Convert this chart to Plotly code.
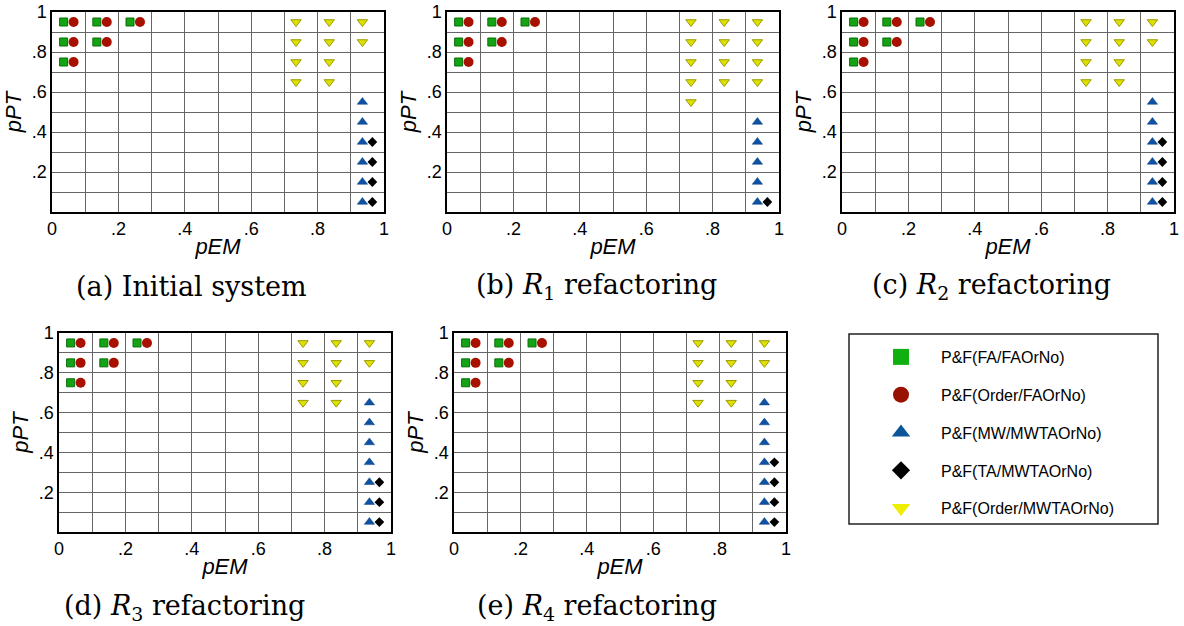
import plotly.graph_objects as go

# ---------------- data ----------------
CAPTIONS = [
    "(a) Initial system",
    "(b) <i>R</i><sub>1</sub> refactoring",
    "(c) <i>R</i><sub>2</sub> refactoring",
    "(d) <i>R</i><sub>3</sub> refactoring",
    "(e) <i>R</i><sub>4</sub> refactoring",
]
SERIES_NAMES = [
    "P&F(FA/FAOrNo)",
    "P&F(Order/FAOrNo)",
    "P&F(MW/MWTAOrNo)",
    "P&F(TA/MWTAOrNo)",
    "P&F(Order/MWTAOrNo)",
]
GRID_VALS = [0, 0.1, 0.2, 0.3, 0.4, 0.5, 0.6, 0.7, 0.8, 0.9, 1.0]
X_TICKVALS = [0, 0.2, 0.4, 0.6, 0.8, 1.0]
X_TICKTEXT = ["0", ".2", ".4", ".6", ".8", "1"]
Y_TICKVALS = [0.2, 0.4, 0.6, 0.8, 1.0]
Y_TICKTEXT = [".2", ".4", ".6", ".8", "1"]

# P&F(FA/FAOrNo) and P&F(Order/FAOrNo): same in every panel
FA_X = [0.035, 0.035, 0.035, 0.135, 0.135, 0.235]
FA_Y = [0.95, 0.85, 0.75, 0.95, 0.85, 0.95]
ORDFA_X = [0.065, 0.065, 0.065, 0.165, 0.165, 0.265]
ORDFA_Y = [0.95, 0.85, 0.75, 0.95, 0.85, 0.95]

# P&F(Order/MWTAOrNo)
ORDMW_X_A = [0.735, 0.735, 0.735, 0.735, 0.835, 0.835, 0.835, 0.835, 0.935, 0.935]
ORDMW_Y_A = [0.95, 0.85, 0.75, 0.65, 0.95, 0.85, 0.75, 0.65, 0.95, 0.85]
ORDMW_X_B = [0.735, 0.735, 0.735, 0.735, 0.735, 0.835, 0.835, 0.835, 0.835, 0.935, 0.935, 0.935, 0.935]
ORDMW_Y_B = [0.95, 0.85, 0.75, 0.65, 0.55, 0.95, 0.85, 0.75, 0.65, 0.95, 0.85, 0.75, 0.65]
ORDMW_X_C = [0.735, 0.735, 0.735, 0.735, 0.835, 0.835, 0.835, 0.835, 0.935, 0.935]
ORDMW_Y_C = [0.95, 0.85, 0.75, 0.65, 0.95, 0.85, 0.75, 0.65, 0.95, 0.85]
ORDMW_X_D = [0.735, 0.735, 0.735, 0.735, 0.835, 0.835, 0.835, 0.835, 0.935, 0.935]
ORDMW_Y_D = [0.95, 0.85, 0.75, 0.65, 0.95, 0.85, 0.75, 0.65, 0.95, 0.85]
ORDMW_X_E = [0.735, 0.735, 0.735, 0.735, 0.835, 0.835, 0.835, 0.835, 0.935, 0.935]
ORDMW_Y_E = [0.95, 0.85, 0.75, 0.65, 0.95, 0.85, 0.75, 0.65, 0.95, 0.85]

# P&F(MW/MWTAOrNo)
MW_X_A = [0.935, 0.935, 0.935, 0.935, 0.935, 0.935]
MW_Y_A = [0.55, 0.45, 0.35, 0.25, 0.15, 0.05]
MW_X_B = [0.935, 0.935, 0.935, 0.935, 0.935]
MW_Y_B = [0.45, 0.35, 0.25, 0.15, 0.05]
MW_X_C = [0.935, 0.935, 0.935, 0.935, 0.935, 0.935]
MW_Y_C = [0.55, 0.45, 0.35, 0.25, 0.15, 0.05]
MW_X_D = [0.935, 0.935, 0.935, 0.935, 0.935, 0.935, 0.935]
MW_Y_D = [0.65, 0.55, 0.45, 0.35, 0.25, 0.15, 0.05]
MW_X_E = [0.935, 0.935, 0.935, 0.935, 0.935, 0.935, 0.935]
MW_Y_E = [0.65, 0.55, 0.45, 0.35, 0.25, 0.15, 0.05]

# P&F(TA/MWTAOrNo)
TA_X_A = [0.965, 0.965, 0.965, 0.965]
TA_Y_A = [0.35, 0.25, 0.15, 0.05]
TA_X_B = [0.965]
TA_Y_B = [0.05]
TA_X_C = [0.965, 0.965, 0.965, 0.965]
TA_Y_C = [0.35, 0.25, 0.15, 0.05]
TA_X_D = [0.965, 0.965, 0.965]
TA_Y_D = [0.25, 0.15, 0.05]
TA_X_E = [0.965, 0.965, 0.965, 0.965]
TA_Y_E = [0.35, 0.25, 0.15, 0.05]

PANEL_ORDMW = [(ORDMW_X_A, ORDMW_Y_A), (ORDMW_X_B, ORDMW_Y_B), (ORDMW_X_C, ORDMW_Y_C),
               (ORDMW_X_D, ORDMW_Y_D), (ORDMW_X_E, ORDMW_Y_E)]
PANEL_MW = [(MW_X_A, MW_Y_A), (MW_X_B, MW_Y_B), (MW_X_C, MW_Y_C), (MW_X_D, MW_Y_D), (MW_X_E, MW_Y_E)]
PANEL_TA = [(TA_X_A, TA_Y_A), (TA_X_B, TA_Y_B), (TA_X_C, TA_Y_C), (TA_X_D, TA_Y_D), (TA_X_E, TA_Y_E)]

# ---------------- layout / style ----------------
W, H = 1184, 626
# plot areas in pixels: (left, right, top, bottom)
BOXES = [
    (52, 384, 12, 212),
    (447, 779, 12, 212),
    (842, 1174, 12, 212),
    (59, 391, 333, 532),
    (454, 786, 333, 532),
]
CAP_POS = [(191, 286), (596, 286), (991, 286), (184, 607), (597, 607)]

STYLES = [
    dict(symbol="square", size=8, color="#14a314", line=dict(color="#0b6e0b", width=1)),
    dict(symbol="circle", size=10, color="#a81000", line=dict(color="#a81000", width=0)),
    dict(symbol="triangle-up", size=9, color="#0d52a3", line=dict(color="#0a3f80", width=0.5)),
    dict(symbol="diamond", size=7.5, color="#000000", line=dict(color="#000000", width=0)),
    dict(symbol="triangle-down", size=9, color="#e0e000", line=dict(color="#9a9a00", width=1)),
]
LEGEND_STYLES = [
    dict(symbol="square", size=16, color="#10b010", line=dict(width=0)),
    dict(symbol="circle", size=16, color="#991100", line=dict(width=0)),
    dict(symbol="triangle-up", size=16, color="#0d5599", line=dict(width=0)),
    dict(symbol="diamond", size=14, color="#000000", line=dict(width=0)),
    dict(symbol="triangle-down", size=16, color="#eeee00", line=dict(width=0)),
]

fig = go.Figure()

for i in range(5):
    sfx = "" if i == 0 else str(i + 1)
    xa, ya = "x" + sfx, "y" + sfx
    series = [
        (FA_X, FA_Y),
        (ORDFA_X, ORDFA_Y),
        PANEL_MW[i],
        PANEL_TA[i],
        PANEL_ORDMW[i],
    ]
    for k, (xs, ys) in enumerate(series):
        fig.add_trace(go.Scatter(
            x=xs, y=ys, mode="markers", xaxis=xa, yaxis=ya,
            marker=STYLES[k], name=SERIES_NAMES[k], showlegend=False,
            hoverinfo="x+y+name",
        ))

# legend entries
for k in range(5):
    fig.add_trace(go.Scatter(
        x=[None], y=[None], mode="markers", xaxis="x", yaxis="y",
        marker=LEGEND_STYLES[k], name=SERIES_NAMES[k], showlegend=True,
        legendgroup="g%d" % k,
    ))

axis_font = dict(family="Liberation Sans, Arial, sans-serif", size=18, color="black")
title_font = dict(family="Liberation Sans, Arial, sans-serif", size=22, color="black")

layout = dict(
    width=W, height=H,
    margin=dict(l=0, r=0, t=0, b=0, autoexpand=False),
    paper_bgcolor="white", plot_bgcolor="white",
    showlegend=True,
    legend=dict(
        x=861 / W, y=1 - 340 / H, xanchor="left", yanchor="top",
        bgcolor="rgba(0,0,0,0)", borderwidth=0,
        font=dict(family="Liberation Sans, Arial, sans-serif", size=16, color="black"),
        tracegroupgap=14, traceorder="grouped", itemwidth=70,
    ),
    annotations=[], shapes=[],
)

for i, (l, r, t, b) in enumerate(BOXES):
    sfx = "" if i == 0 else str(i + 1)
    common = dict(
        range=[0, 1], showgrid=True, gridcolor="#666666", gridwidth=1,
        minor=dict(tickvals=GRID_VALS, showgrid=True, gridcolor="#666666", gridwidth=1, ticks=""),
        showline=True, linecolor="black", linewidth=1.5, mirror=True,
        zeroline=False, ticks="", tickfont=axis_font, fixedrange=True, automargin=False,
    )
    layout["xaxis" + sfx] = dict(
        common, domain=[l / W, r / W], tickvals=X_TICKVALS, ticktext=X_TICKTEXT, anchor="y" + sfx,
        title=dict(text="<i>pEM</i>", font=title_font, standoff=0),
    )
    layout["yaxis" + sfx] = dict(
        common, domain=[1 - b / H, 1 - t / H], tickvals=Y_TICKVALS, ticktext=Y_TICKTEXT, anchor="x" + sfx,
        title=dict(text="<i>pPT</i>", font=title_font, standoff=4),
    )
    cx, cy = CAP_POS[i]
    layout["annotations"].append(dict(
        text=CAPTIONS[i], x=cx / W, y=1 - cy / H, xref="paper", yref="paper",
        xanchor="center", yanchor="middle", showarrow=False,
        font=dict(family="DejaVu Serif, Liberation Serif, serif", size=27, color="black"),
    ))

# legend frame
layout["shapes"].append(dict(
    type="rect", xref="paper", yref="paper",
    x0=849 / W, x1=1158 / W, y0=1 - 524 / H, y1=1 - 334 / H,
    line=dict(color="#222222", width=1.5), fillcolor="rgba(0,0,0,0)",
))

fig.update_layout(**layout)
fig.write_html("out.html", config={"displayModeBar": False},
               post_script="document.body.style.margin='0';")
